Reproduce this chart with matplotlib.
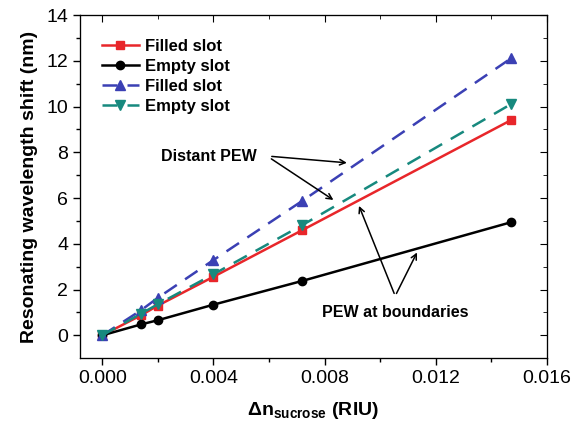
import matplotlib
matplotlib.use("Agg")
import matplotlib.pyplot as plt
import numpy as np

plt.rcParams['font.family'] = ['Liberation Sans', 'DejaVu Sans']
plt.rcParams['mathtext.fontset'] = 'custom'
plt.rcParams['mathtext.rm'] = 'Liberation Sans'
plt.rcParams['mathtext.bf'] = 'Liberation Sans:bold'

# data
dn = [0.0, 0.0014, 0.002, 0.004, 0.0072, 0.0147]
filled_boundary = [0.0, 0.88, 1.3, 2.56, 4.6, 9.4]
empty_boundary = [0.0, 0.48, 0.66, 1.34, 2.38, 4.94]
filled_distant = [0.0, 1.1, 1.64, 3.29, 5.88, 12.1]
empty_distant = [0.0, 0.95, 1.36, 2.67, 4.82, 10.1]

xticks = [0.000, 0.004, 0.008, 0.012, 0.016]
xtick_labels = ['0.000', '0.004', '0.008', '0.012', '0.016']
yticks = [0, 2, 4, 6, 8, 10, 12, 14]

fig = plt.figure(figsize=(5.8, 4.29), dpi=100)
ax = fig.add_axes([0.138, 0.165, 0.805, 0.8])

red = '#e8262a'
blue = '#3b40b4'
teal = '#17897e'

ax.plot(dn, filled_boundary, '-', color=red, marker='s', ms=6, lw=1.8, label='Filled slot')
ax.plot(dn, empty_boundary, '-', color='black', marker='o', ms=6, lw=1.8, label='Empty slot')
ax.plot(dn, filled_distant, '--', color=blue, marker='^', ms=7, lw=1.8, dashes=(6, 4), label='Filled slot')
ax.plot(dn, empty_distant, '--', color=teal, marker='v', ms=7, lw=1.8, dashes=(6, 4), label='Empty slot')

ax.set_xlim(-0.0008, 0.016)
ax.set_ylim(-1, 14)
ax.set_xticks(xticks)
ax.set_xticklabels(xtick_labels)
ax.set_xticks(np.arange(0, 0.0161, 0.002), minor=True)
ax.set_yticks(yticks)
ax.set_yticks(np.arange(0, 14.1, 1), minor=True)
ax.tick_params(which='both', direction='out', labelsize=14, width=1)
ax.tick_params(which='major', length=5)
ax.tick_params(which='minor', length=3)

# inward ticks on top and right like the original
axt = ax.twiny()
axt.set_xlim(ax.get_xlim())
axt.set_xticks(xticks)
axt.set_xticks(np.arange(0, 0.0161, 0.002), minor=True)
axt.tick_params(which='both', direction='in', labeltop=False)
axt.tick_params(which='major', length=5)
axt.tick_params(which='minor', length=3)
axr = ax.twinx()
axr.set_ylim(ax.get_ylim())
axr.set_yticks(yticks)
axr.set_yticks(np.arange(0, 14.1, 1), minor=True)
axr.tick_params(which='both', direction='in', labelright=False)
axr.tick_params(which='major', length=5)
axr.tick_params(which='minor', length=3)

ax.set_ylabel('Resonating wavelength shift (nm)', fontsize=14, fontweight='bold', labelpad=6)
ax.set_xlabel(r'$\mathbf{\Delta n}_{\mathbf{sucrose}}$ (RIU)', fontsize=14, fontweight='bold', labelpad=9)

leg = ax.legend(loc='upper left', frameon=False, prop={'size': 12, 'weight': 'bold'},
                handlelength=2.2, handletextpad=0.4, labelspacing=0.3,
                bbox_to_anchor=(0.015, 0.975))

arrow = dict(arrowstyle='->', color='black', lw=1.1)
ax.text(0.00556, 7.83, 'Distant PEW', fontsize=11.5, fontweight='bold', ha='right', va='center')
ax.annotate('', xy=(0.0089, 7.53), xytext=(0.006, 7.83), arrowprops=arrow)
ax.annotate('', xy=(0.0084, 5.85), xytext=(0.006, 7.78), arrowprops=arrow)

ax.text(0.01054, 1.0, 'PEW at boundaries', fontsize=11.5, fontweight='bold', ha='center', va='center')
ax.annotate('', xy=(0.0092, 5.77), xytext=(0.01054, 1.72), arrowprops=arrow)
ax.annotate('', xy=(0.01137, 3.73), xytext=(0.01054, 1.72), arrowprops=arrow)

fig.savefig('out.png', dpi=100)
